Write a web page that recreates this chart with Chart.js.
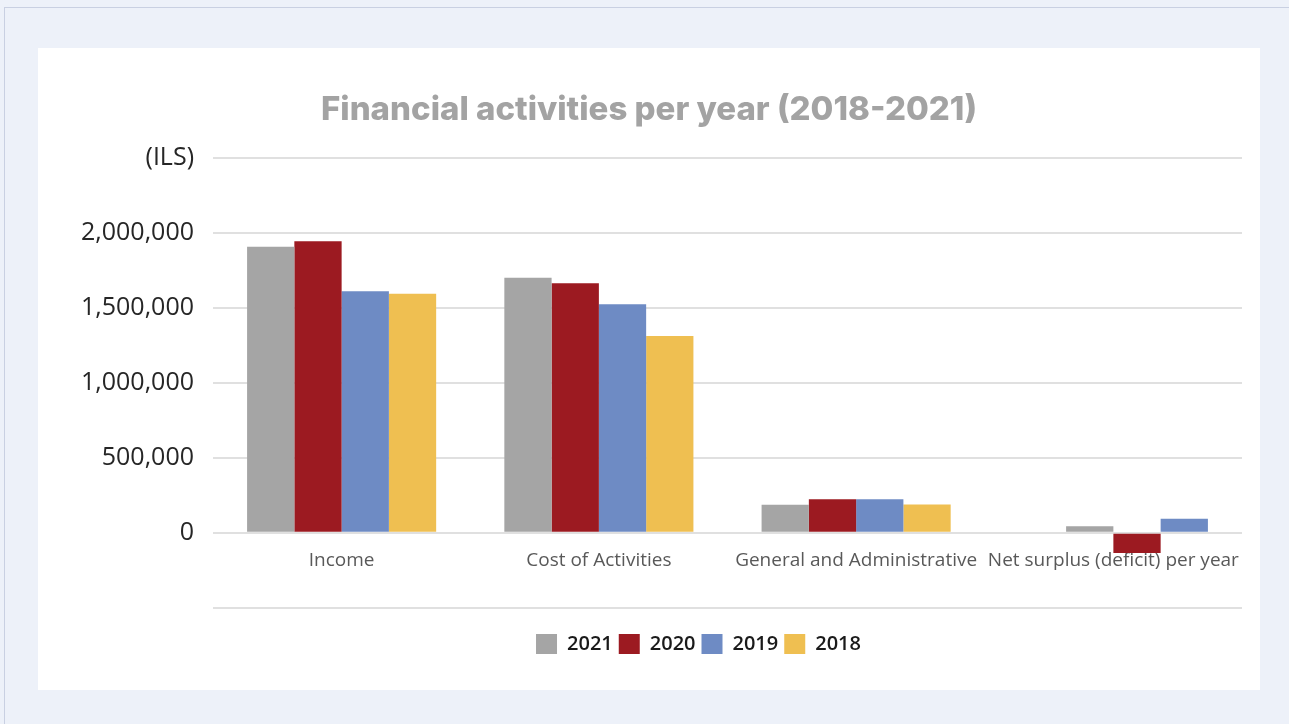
<!DOCTYPE html>
<html><head><meta charset="utf-8">
<script src="https://cdn.jsdelivr.net/npm/chart.js@4.4.0/dist/chart.umd.min.js"></script>
<style>
html,body{margin:0;padding:0;background:#edf1f9;width:1289px;height:724px;overflow:hidden;}
#frame{position:absolute;left:4px;top:7px;width:1400px;height:800px;border:1px solid #c9d0e2;}
#panel{position:absolute;left:38px;top:48px;width:1222px;height:642px;background:#fff;}
canvas{display:block}
</style></head><body>
<div id="frame"></div>
<div id="panel"><canvas id="c" width="1222" height="642"></canvas></div>
<script>
const categories = ['Income', 'Cost of Activities', 'General and Administrative', 'Net surplus (deficit) per year'];
const years = ['2021', '2020', '2019', '2018'];
const values2021 = [1906000, 1700000, 186000, 44000];
const values2020 = [1942000, 1663000, 224000, -135000];
const values2019 = [1609000, 1522000, 224000, 94000];
const values2018 = [1592000, 1311000, 188000, null];
// empty leading slot used only in the last group (as in the reference layout)
const leadingSlot = [null, null, null, 0];
const seriesColors = ['#a5a5a5', '#9c1a21', '#6e8bc4', '#efbf51'];
const tickValues = [-500000, 0, 500000, 1000000, 1500000, 2000000, 2500000];
const tickLabels = ['', '0', '500,000', '1,000,000', '1,500,000', '2,000,000', '(ILS)'];
const titleText = 'Financial activities per year (2018-2021)';

const allValues = [values2021, values2020, values2019, values2018];
const datasets = [{
  label: '',
  data: leadingSlot,
  backgroundColor: 'rgba(0,0,0,0)',
  borderWidth: 0,
  barPercentage: 1.0,
  categoryPercentage: 0.735,
  skipNull: true
}].concat(years.map((y, i) => ({
  label: y,
  data: allValues[i],
  backgroundColor: seriesColors[i],
  borderWidth: 0,
  barPercentage: 1.0,
  categoryPercentage: 0.735,
  skipNull: true
})));

const shiftBoxes = {
  id: 'shiftBoxes',
  afterLayout(chart) {
    const l = chart.legend;
    if (l) { l.left -= 29; l.right -= 29; }
    const t = chart.titleBlock;
    if (t) { t.left += 9; t.right += 9; }
  }
};

new Chart(document.getElementById('c'), {
  type: 'bar',
  data: { labels: categories, datasets },
  plugins: [shiftBoxes],
  options: {
    responsive: false,
    animation: false,
    devicePixelRatio: 1,
    skipNull: true,
    layout: { padding: { left: 0, right: 18, top: 0, bottom: 26 } },
    plugins: {
      title: {
        display: true,
        text: titleText,
        color: '#a3a3a3',
        font: { family: 'Inter', weight: '800', size: 33 },
        padding: { top: 42, bottom: 28 }
      },
      legend: {
        position: 'bottom',
        fullSize: false,
        title: { display: true, text: '', font: { size: 1 }, padding: { top: 0, bottom: 19 } },
        labels: {
          boxWidth: 21,
          boxHeight: 20,
          padding: 6,
          color: '#1a1a1a',
          font: { family: 'Open Sans', size: 20, weight: '600' },
          filter: (item) => item.text !== ''
        }
      },
      tooltip: { enabled: false }
    },
    scales: {
      x: {
        position: { y: 0 },
        grid: { display: false, drawTicks: false },
        border: { display: false },
        ticks: {
          padding: 16,
          color: '#595959',
          font: { family: 'Open Sans', size: 19 },
          maxRotation: 0,
          autoSkip: false
        }
      },
      y: {
        min: -500000,
        max: 2500000,
        afterBuildTicks(scale) { scale.ticks = tickValues.map(v => ({ value: v })); },
        afterFit(scale) { scale.width = 175; },
        grid: { color: '#e0e0e0', lineWidth: 2, drawTicks: false },
        border: { display: false },
        ticks: {
          padding: 19,
          color: '#262626',
          font: { family: 'Open Sans', size: 25 },
          callback: (v) => { const i = tickValues.indexOf(v); return i >= 0 ? tickLabels[i] : ''; }
        }
      }
    }
  }
});
</script>
</body></html>
